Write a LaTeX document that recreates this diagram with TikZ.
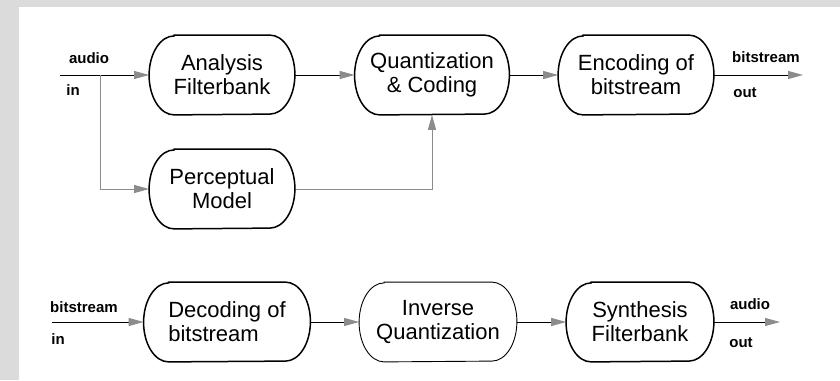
\documentclass[tikz,border=0pt]{standalone}
\usepackage{fontspec}
\setmainfont{Liberation Sans}
\usetikzlibrary{arrows.meta}

\begin{document}
\begin{tikzpicture}[
  x=0.5pt,y=-0.5pt,
  font=\fontsize{11}{12}\selectfont,
  block/.style={align=center,minimum width=72.5pt,minimum height=39.5pt,inner sep=2pt},
  flow/.style={-{Triangle[length=7.5pt,width=4pt,color=black!45]},line width=0.5pt},
  branch/.style={flow,draw=black!45},
  lab/.style={font=\fontsize{7.5}{9}\selectfont\bfseries,inner sep=0pt}
]
\fill[black!14] (0,0) rectangle (840,380);
\fill[white] (19,7) rectangle (840,380);
\useasboundingbox (0,0) rectangle (840,380);
% encoder
\node[block] (af) at (222,75) {Analysis\\Filterbank};
\node[block,minimum width=77pt] (qc) at (432,75) {Quantization\\\& Coding};
\node[block,minimum width=77.5pt] (eb) at (636,75) {Encoding of\\bitstream};
\node[block] (pm) at (222,189) {Perceptual\\Model};
\coordinate (ain) at (60,75);
\coordinate (fork) at (100,75);
\coordinate (bout) at (803,75);
\node[lab] (ainu) at (89,58) {audio};
\node[lab] (ainl) at (73,90) {in};
\node[lab] (boutu) at (766,57) {bitstream};
\node[lab] (boutl) at (745,93) {out};
\draw[flow] (ain) -- (af);
\draw[flow] (af) -- (qc);
\draw[flow] (qc) -- (eb);
\draw[flow] (eb) -- (bout);
\draw[branch] (fork) |- (pm.west);
\draw[branch] (pm.east) -| (qc.south);
% decoder
\node[block,minimum width=83pt,align=left] (db) at (227,322) {Decoding of\\bitstream};
\node[block,minimum width=78.5pt] (iq) at (438,322) {Inverse\\Quantization};
\node[block,minimum width=73.5pt] (sf) at (640,322) {Synthesis\\Filterbank};
\coordinate (bin) at (52,322);
\coordinate (aout) at (780,322);
\node[lab] (binu) at (84,307) {bitstream};
\node[lab] (binl) at (58,339) {in};
\node[lab] (aoutu) at (750,304) {audio};
\node[lab] (aoutl) at (741,343) {out};
\draw[flow] (bin) -- (db);
\draw[flow] (db) -- (iq);
\draw[flow] (iq) -- (sf);
\draw[flow] (sf) -- (aout);
% oval outlines with elliptic ends
\foreach \n/\w in {af/0.75pt,qc/0.75pt,eb/0.75pt,pm/0.75pt,db/0.75pt,iq/0.45pt,sf/0.75pt}
  \draw[line width=\w] ([xshift=12.5pt]\n.north west) -- ([xshift=-12.5pt]\n.north east)
    arc[start angle=90,end angle=-90,x radius=12.5pt,y radius=19.75pt]
    -- ([xshift=12.5pt]\n.south west)
    arc[start angle=270,end angle=90,x radius=12.5pt,y radius=19.75pt] -- cycle;
\end{tikzpicture}
\end{document}
